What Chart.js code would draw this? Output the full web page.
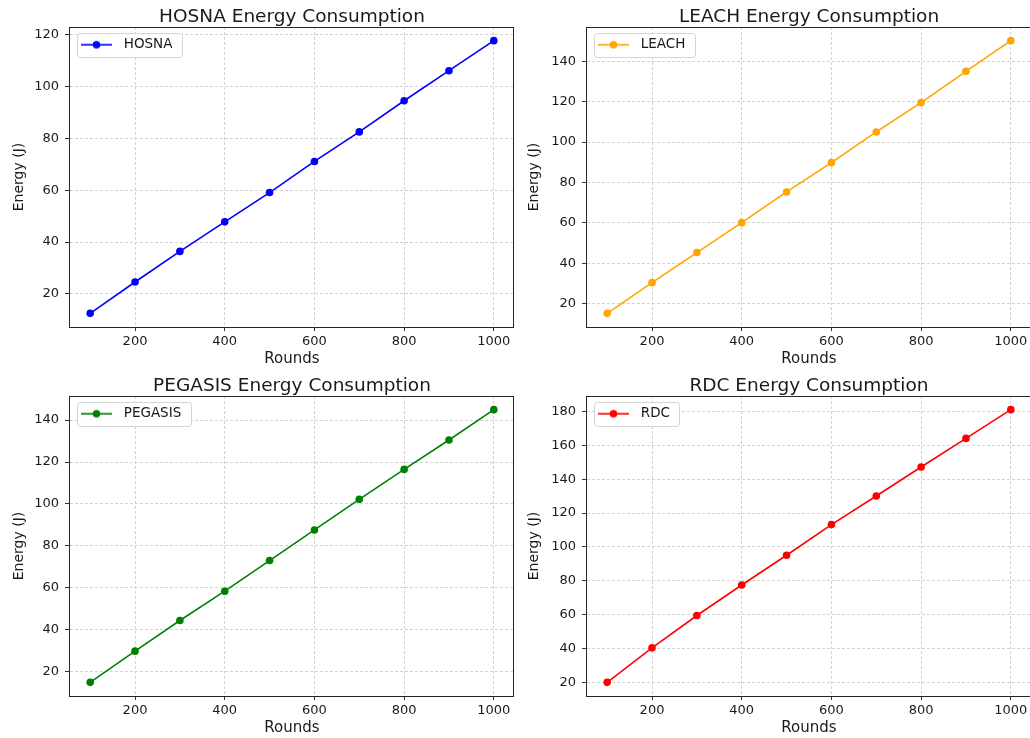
<!DOCTYPE html>
<html>
<head>
<meta charset="utf-8">
<title>Energy Consumption</title>
<script src="https://cdn.jsdelivr.net/npm/chart.js@4.4.1/dist/chart.umd.min.js"></script>
<style>
  html, body { margin: 0; padding: 0; background: #fff; overflow: hidden; }
  body { width: 1030px; height: 738px; position: relative; }
  .panel { position: absolute; }
  .panel canvas { display: block; }
</style>
</head>
<body>
<div class="panel" style="left:0;top:0"><canvas id="hosna" width="520" height="369"></canvas></div>
<div class="panel" style="left:515px;top:0"><canvas id="leach" width="520" height="369"></canvas></div>
<div class="panel" style="left:0;top:369px"><canvas id="pegasis" width="520" height="369"></canvas></div>
<div class="panel" style="left:515px;top:369px"><canvas id="rdc" width="520" height="369"></canvas></div>

<script>
const rounds = [100, 200, 300, 400, 500, 600, 700, 800, 900, 1000];
const roundTicks = [200, 400, 600, 800, 1000];

const hosnaEnergy = [12.5, 24.6, 36.4, 47.8, 59.1, 71.1, 82.5, 94.5, 106.1, 117.7];
const leachEnergy = [15.2, 30.4, 45.3, 60.1, 75.3, 89.8, 105.0, 119.5, 135.0, 150.2];
const pegasisEnergy = [14.9, 29.8, 44.4, 58.4, 73.0, 87.6, 102.2, 116.5, 130.5, 145.0];
const rdcEnergy = [20.0, 40.4, 59.5, 77.5, 95.1, 113.2, 130.1, 147.2, 164.1, 181.1];

const hosnaTicks = [20, 40, 60, 80, 100, 120];
const leachTicks = [20, 40, 60, 80, 100, 120, 140];
const pegasisTicks = [20, 40, 60, 80, 100, 120, 140];
const rdcTicks = [20, 40, 60, 80, 100, 120, 140, 160, 180];

Chart.defaults.font.family = "'DejaVu Sans', sans-serif";
const textColor = "#1a1a1a";
const gridColor = "#c8c8c8";

// matplotlib style 5% margins around the data
function padRange(values) {
  const lo = Math.min(...values);
  const hi = Math.max(...values);
  const m = (hi - lo) * 0.05;
  return [lo - m, hi + m];
}

// legend handle: short line with a dot in the middle
function makeHandle(color) {
  const c = document.createElement("canvas");
  c.width = 36;
  c.height = 10;
  const g = c.getContext("2d");
  g.strokeStyle = color;
  g.lineWidth = 1.6;
  g.beginPath();
  g.moveTo(0, 5);
  g.lineTo(31, 5);
  g.stroke();
  g.fillStyle = color;
  g.beginPath();
  g.arc(15.5, 5, 3.8, 0, Math.PI * 2);
  g.fill();
  return c;
}

const legendFrame = {
  id: "legendFrame",
  // the chartArea legend keeps top = 0, move it down into the plot
  afterUpdate(chart) {
    const lg = chart.legend;
    const dy = chart.chartArea.top - lg.top;
    lg.top += dy;
    lg.bottom += dy;
    lg.legendHitBoxes.forEach((h) => { h.top += dy; });
  },
  beforeDatasetsDraw(chart) {
    const lg = chart.legend;
    const hb = lg.legendHitBoxes[0];
    if (!hb) return;
    const ctx = chart.ctx;
    ctx.save();
    ctx.beginPath();
    ctx.roundRect(Math.round(hb.left - 4.5) + 0.5, Math.round(hb.top - 5) + 0.5,
      Math.round(hb.width + 13.5), Math.round(hb.height + 10), 3);
    ctx.fillStyle = "rgba(255,255,255,0.95)";
    ctx.fill();
    ctx.strokeStyle = "#d4d4d4";
    ctx.lineWidth = 1;
    ctx.stroke();
    ctx.restore();
    lg.draw();
  },
};

const spines = {
  id: "spines",
  afterDraw(chart) {
    const a = chart.chartArea;
    const ctx = chart.ctx;
    const l = Math.round(a.left) - 0.5;
    const t = Math.round(a.top) + 0.5;
    const r = Math.round(a.right) - 0.5;
    const b = Math.round(a.bottom) + 0.5;
    ctx.save();
    ctx.strokeStyle = "#262626";
    ctx.lineWidth = 1;
    ctx.strokeRect(l, t, r - l, b - t);
    ctx.restore();
  },
};

function drawPanel(id, name, values, yTicks, color, yWidth, padRight) {
  const xr = padRange(rounds);
  const yr = padRange(values);
  return new Chart(document.getElementById(id), {
    type: "line",
    data: {
      datasets: [
        {
          label: name,
          data: values.map((v, i) => ({ x: rounds[i], y: v })),
          borderColor: color,
          backgroundColor: color,
          borderWidth: 1.6,
          pointRadius: 3.8,
          pointBorderWidth: 0,
          pointBackgroundColor: color,
          tension: 0,
        },
      ],
    },
    options: {
      responsive: false,
      animation: false,
      devicePixelRatio: 1,
      events: [],
      layout: { padding: { left: 0, right: padRight, top: 0, bottom: 0 } },
      scales: {
        x: {
          type: "linear",
          min: xr[0],
          max: xr[1],
          afterBuildTicks: (s) => { s.ticks = roundTicks.map((v) => ({ value: v })); },
          afterFit: (s) => { s.height = 42; },
          ticks: { callback: (v) => String(v), maxRotation: 0, autoSkip: false, padding: 3, color: textColor, font: { size: 13 } },
          grid: { color: gridColor, lineWidth: 0.8, tickColor: "#333", tickLength: 4, tickWidth: 1 },
          border: { display: false, dash: [3, 2] },
          title: { display: true, text: "Rounds", color: textColor, font: { size: 15 }, padding: { top: 0, bottom: 1 } },
        },
        y: {
          type: "linear",
          min: yr[0],
          max: yr[1],
          afterBuildTicks: (s) => { s.ticks = yTicks.map((v) => ({ value: v })); },
          afterFit: (s) => { s.width = yWidth; },
          ticks: { callback: (v) => String(v), autoSkip: false, padding: 6, color: textColor, font: { size: 13 } },
          grid: { color: gridColor, lineWidth: 0.8, tickColor: "#333", tickLength: 5, tickWidth: 1 },
          border: { display: false, dash: [3, 2] },
          title: { display: true, text: "Energy (J)", color: textColor, font: { size: 14 }, padding: { top: 11, bottom: 0 } },
        },
      },
      plugins: {
        title: {
          display: true,
          text: name + " Energy Consumption",
          fullSize: false,
          color: textColor,
          font: { size: 18.5, weight: "normal", lineHeight: 1 },
          padding: { top: 8, bottom: 0.5 },
        },
        legend: {
          position: "chartArea",
          align: "start",
          labels: {
            usePointStyle: true,
            pointStyle: makeHandle(color),
            pointStyleWidth: 36,
            padding: 11,
            color: textColor,
            font: { size: 13.5 },
          },
        },
        tooltip: { enabled: false },
      },
    },
    plugins: [legendFrame, spines],
  });
}

drawPanel("hosna", "HOSNA", hosnaEnergy, hosnaTicks, "#0000ff", 70, 6);
drawPanel("leach", "LEACH", leachEnergy, leachTicks, "#ffa500", 72, 3);
drawPanel("pegasis", "PEGASIS", pegasisEnergy, pegasisTicks, "#008000", 70, 6);
drawPanel("rdc", "RDC", rdcEnergy, rdcTicks, "#ff0000", 72, 3);
</script>
</body>
</html>
